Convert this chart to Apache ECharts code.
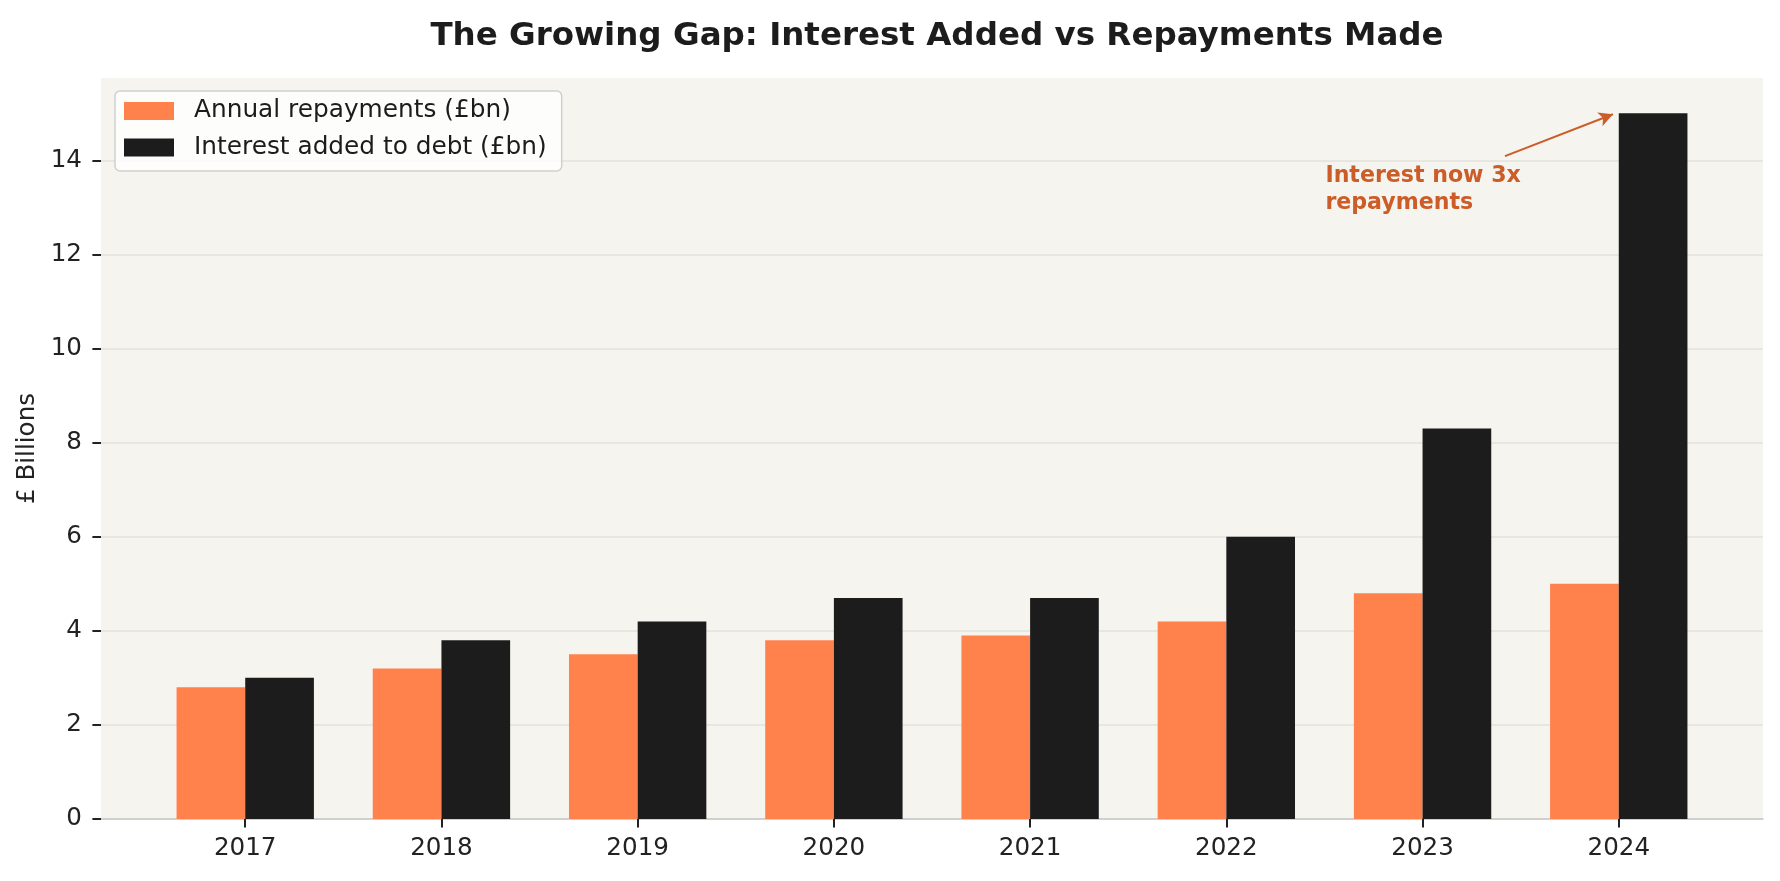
<!DOCTYPE html>
<html>
<head>
<meta charset="utf-8">
<script src="https://cdn.jsdelivr.net/npm/echarts@6/dist/echarts.min.js"></script>
<style>
html,body{margin:0;padding:0;background:#ffffff;}
#chart{width:1780px;height:881px;}
</style>
</head>
<body>
<div id="chart"></div>
<script>
const years = ['2017', '2018', '2019', '2020', '2021', '2022', '2023', '2024'];
const repayments = [2.8, 3.2, 3.5, 3.8, 3.9, 4.2, 4.8, 5.0];
const interest = [3.0, 3.8, 4.2, 4.7, 4.7, 6.0, 8.3, 15.0];
const yTicks = [0, 2, 4, 6, 8, 10, 12, 14];
const xTicks = [0, 1, 2, 3, 4, 5, 6, 7];
const seriesNames = ['Annual repayments (£bn)', 'Interest added to debt (£bn)'];
const annoText = 'Interest now 3x\nrepayments';
const annoTextAt = [5.505, 13.38];
const annoArrowFrom = [6.42, 14.09];
const annoArrowTo = [6.97, 14.98];

const FONT = 'DejaVu Sans';
const ANNO = '#cc5c28';
const chart = echarts.init(document.getElementById('chart'), null, {renderer: 'canvas'});

const option = {
  backgroundColor: '#ffffff',
  animation: false,
  textStyle: {fontFamily: FONT},
  title: {
    text: 'The Growing Gap: Interest Added vs Repayments Made',
    left: 932,
    top: 15,
    textAlign: 'center',
    textStyle: {fontFamily: FONT, fontSize: 32.5, fontWeight: 'bold', color: '#1c1c1c'}
  },
  legend: {
    orient: 'vertical',
    left: 115,
    top: 91,
    padding: [7.5, 15, 11, 9],
    itemWidth: 50,
    itemHeight: 18,
    itemGap: 11.5,
    icon: 'rect',
    backgroundColor: 'rgba(255,255,255,0.8)',
    borderColor: '#d0d0d0',
    borderWidth: 1.5,
    borderRadius: 5,
    textStyle: {fontFamily: FONT, fontSize: 24.8, color: '#1c1c1c', lineHeight: 25, padding: [0, 0, 0, 15]},
    data: seriesNames
  },
  grid: {
    left: 101, right: 17, top: 78, bottom: 62,
    show: true, backgroundColor: '#f5f4ee', borderWidth: 0
  },
  xAxis: {
    type: 'value',
    min: -0.735,
    max: 7.735,
    splitLine: {show: false},
    axisLine: {show: true, onZero: false, lineStyle: {color: '#c8c8c8', width: 1.5}},
    axisTick: {show: true, customValues: xTicks, length: 8.6, lineStyle: {color: '#222222', width: 2}},
    axisLabel: {
      customValues: xTicks,
      margin: 17,
      fontFamily: FONT, fontSize: 24.6, color: '#222222',
      formatter: function (v) { return years[Math.round(v)]; }
    }
  },
  yAxis: {
    type: 'value',
    min: 0,
    max: 15.75,
    name: '£ Billions',
    nameLocation: 'middle',
    nameGap: 61,
    nameTextStyle: {fontFamily: FONT, fontSize: 24.6, color: '#222222'},
    axisLine: {show: false, onZero: false},
    axisTick: {show: true, customValues: yTicks, length: 8.6, lineStyle: {color: '#222222', width: 2}},
    axisLabel: {customValues: yTicks, margin: 19, fontFamily: FONT, fontSize: 24.6, color: '#222222'},
    splitLine: {show: true, lineStyle: {color: '#e3e2dd', width: 1.6}}
  },
  series: [
    {
      name: seriesNames[0],
      type: 'bar',
      barWidth: '35%',
      barGap: '0%',
      itemStyle: {color: '#ff824d'},
      data: repayments.map((v, i) => [i, v])
    },
    {
      name: seriesNames[1],
      type: 'bar',
      barWidth: '35%',
      barGap: '0%',
      itemStyle: {color: '#1b1c1b'},
      data: interest.map((v, i) => [i, v])
    },
    {
      name: 'annotation',
      type: 'scatter',
      data: [],
      silent: true,
      markLine: {
        silent: true,
        symbol: ['none', 'arrow'],
        symbolSize: [11, 14],
        lineStyle: {color: ANNO, width: 2, type: 'solid'},
        label: {show: false},
        data: [[{coord: annoArrowFrom}, {coord: annoArrowTo}]]
      },
      markPoint: {
        silent: true,
        symbol: 'circle',
        symbolSize: 0,
        itemStyle: {color: 'transparent'},
        label: {
          show: true,
          position: 'right',
          distance: 0,
          align: 'left',
          verticalAlign: 'middle',
          formatter: annoText,
          fontFamily: FONT,
          fontSize: 22.1,
          fontWeight: 'bold',
          lineHeight: 26.5,
          color: ANNO
        },
        data: [{coord: annoTextAt}]
      }
    }
  ]
};
chart.setOption(option);
</script>
</body>
</html>
